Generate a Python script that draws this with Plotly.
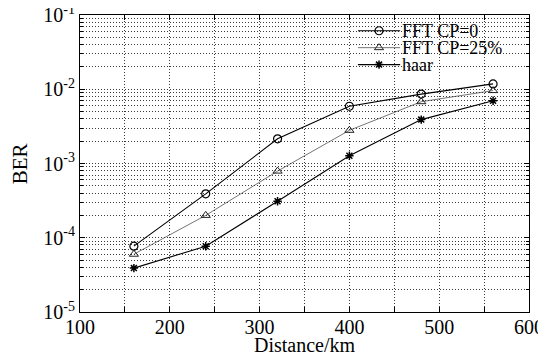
import plotly.graph_objects as go

distance = [160, 240, 320, 400, 480, 560]
ber_fft_cp0 = [7.7e-5, 3.9e-4, 2.15e-3, 5.9e-3, 8.6e-3, 1.18e-2]
ber_fft_cp25 = [6.0e-5, 2.0e-4, 7.9e-4, 2.8e-3, 6.8e-3, 9.6e-3]
ber_haar = [3.9e-5, 7.7e-5, 3.1e-4, 1.27e-3, 3.9e-3, 7.0e-3]

series_names = ["FFT CP=0", "FFT CP=25%", "haar"]
x_ticks = [100, 200, 300, 400, 500, 600]
y_ticks = [1e-5, 1e-4, 1e-3, 1e-2, 1e-1]
y_ticktext = ["10<sup>-5</sup>", "10<sup>-4</sup>", "10<sup>-3</sup>", "10<sup>-2</sup>", "10<sup>-1</sup>"]

FONT = "Liberation Serif"
GRID = "#3a3a3a"
DASH = "1px,2px"

styles = [
    dict(line=dict(color="black", width=1.1),
         marker=dict(symbol="circle-open", size=8, color="black", line=dict(width=1.2))),
    dict(line=dict(color="#3a3a3a", width=0.7),
         marker=dict(symbol="triangle-up-open", size=8, color="#222", line=dict(width=1))),
    dict(line=dict(color="black", width=1.1),
         marker=dict(symbol="asterisk-open", size=7, color="black", line=dict(width=1.5))),
]

fig = go.Figure()
for name, ys, st in zip(series_names, [ber_fft_cp0, ber_fft_cp25, ber_haar], styles):
    fig.add_trace(go.Scatter(x=distance, y=ys, name=name, mode="lines+markers",
                             showlegend=False, xaxis="x", yaxis="y", **st))

# manual legend (box, sample lines, markers, labels) in overlay/paper coordinates
leg_x0, leg_x1, leg_top, leg_bot = 0.615, 0.990, 1.0, 0.800
row_y = [0.947, 0.890, 0.833]
line_x0, line_x1, mark_x, text_x = 0.619, 0.713, 0.666, 0.715

shapes = [dict(type="rect", xref="paper", yref="paper", x0=leg_x0, x1=leg_x1,
               y0=leg_bot, y1=leg_top, fillcolor="white", line=dict(width=0), layer="between")]
annotations = []
for name, ry, st in zip(series_names, row_y, styles):
    shapes.append(dict(type="line", xref="paper", yref="paper", x0=line_x0, x1=line_x1,
                       y0=ry, y1=ry, line=dict(color=st["line"]["color"], width=st["line"]["width"]),
                       layer="above"))
    fig.add_trace(go.Scatter(x=[mark_x], y=[ry], xaxis="x2", yaxis="y2", mode="markers",
                             marker=st["marker"], showlegend=False, hoverinfo="skip"))
    annotations.append(dict(x=text_x, y=ry, xref="paper", yref="paper", text=name,
                            showarrow=False, xanchor="left", yanchor="middle", borderpad=0,
                            font=dict(family=FONT, size=18, color="black")))

annotations.append(dict(x=0.5, y=-0.15, xref="paper", yref="paper", text="Distance/km",
                        showarrow=False, xanchor="center", yanchor="bottom", borderpad=0,
                        font=dict(family=FONT, size=20, color="black")))
annotations.append(dict(x=-0.134, y=0.5, xref="paper", yref="paper", text="BER",
                        showarrow=False, xanchor="center", yanchor="middle", textangle=-90,
                        font=dict(family=FONT, size=21, color="black")))

minor_y = [m * 10 ** e for e in range(-5, -1) for m in range(2, 10)]

# page body has an 8px default margin, so the figure is shrunk/shifted to compensate
fig.update_layout(
    width=538, height=346,
    margin=dict(l=72, r=17, t=7, b=42),
    paper_bgcolor="white", plot_bgcolor="white",
    font=dict(family=FONT, size=20, color="black"),
    showlegend=False,
    shapes=shapes,
    annotations=annotations,
    xaxis=dict(
        range=[100, 600], tickvals=x_ticks, ticks="inside", ticklen=5, tickcolor="black",
        showline=True, linecolor="black", linewidth=1, mirror="ticks",
        showgrid=True, gridcolor=GRID, griddash=DASH, gridwidth=1,
        minor=dict(dtick=50, tick0=100, showgrid=True, gridcolor=GRID, griddash=DASH,
                   ticks="inside", ticklen=5, tickcolor="black"),
        zeroline=False, automargin=False, ticklabeloverflow="allow",
        ticklabelstandoff=-3,
        tickfont=dict(size=20, family=FONT),
    ),
    yaxis=dict(
        type="log", range=[-5, -1], tickvals=y_ticks, ticktext=y_ticktext,
        ticks="inside", ticklen=5, tickcolor="black",
        showline=True, linecolor="black", linewidth=1, mirror="ticks",
        showgrid=True, gridcolor=GRID, griddash=DASH, gridwidth=1,
        minor=dict(tickvals=minor_y, showgrid=True, gridcolor=GRID, griddash=DASH,
                   ticks="inside", ticklen=3, tickcolor="black"),
        zeroline=False, automargin=False, ticklabeloverflow="allow",
        tickfont=dict(size=20, family=FONT),
    ),
    xaxis2=dict(overlaying="x", range=[0, 1], visible=False, fixedrange=True),
    yaxis2=dict(overlaying="y", range=[0, 1], visible=False, fixedrange=True),
)

fig.write_html("out.html")
